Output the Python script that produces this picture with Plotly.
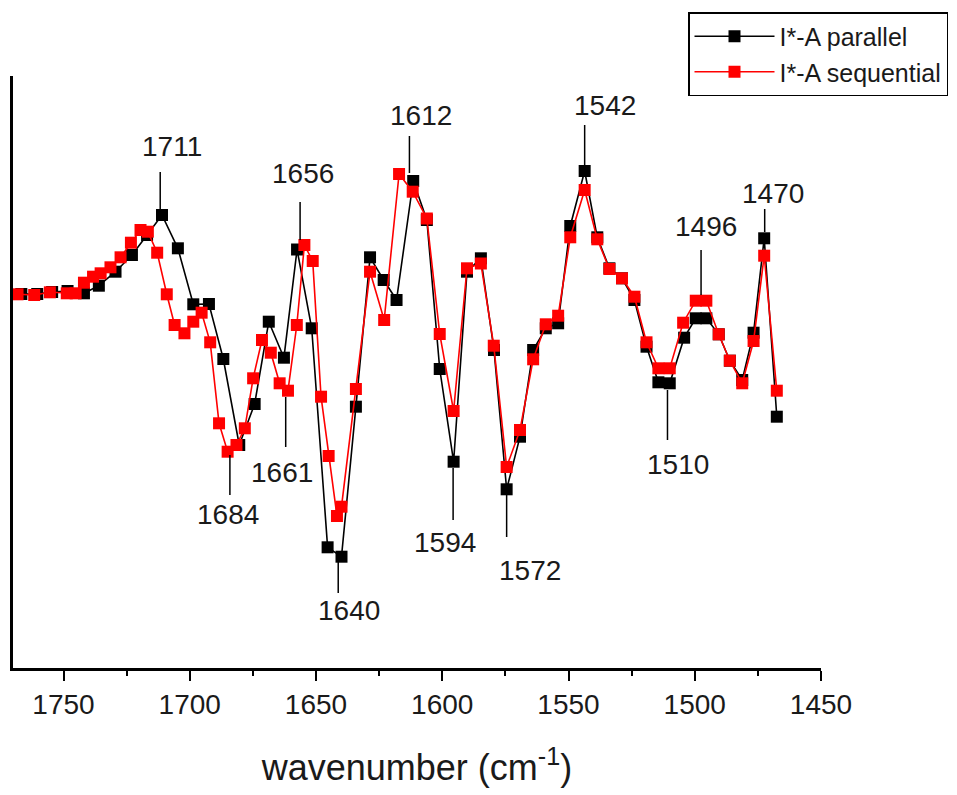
import plotly.graph_objects as go

# ---------------- data ----------------
wn_parallel = [1766.7, 1760.4, 1754.5, 1748.4, 1741.9, 1736.0, 1729.4, 1722.9, 1716.9, 1711.0,
               1704.7, 1698.6, 1692.4, 1686.7, 1680.4, 1674.3, 1668.7, 1662.7, 1657.5, 1651.7,
               1645.4, 1639.9, 1634.2, 1628.6, 1623.2, 1618.1, 1611.5, 1606.1, 1601.0, 1595.5,
               1590.2, 1584.7, 1579.5, 1574.5, 1569.2, 1564.0, 1559.0, 1554.1, 1549.3, 1543.6,
               1538.6, 1533.8, 1528.8, 1523.9, 1519.1, 1514.4, 1509.9, 1504.2, 1499.6, 1495.4,
               1490.5, 1486.1, 1481.2, 1476.7, 1472.5, 1467.5]
val_parallel = [-0.01, -0.01, 0.01, 0.02, -0.003, 0.073, 0.213, 0.38, 0.58, 0.78,
                0.447, -0.113, -0.11, -0.66, -1.52, -1.11, -0.287, -0.647, 0.435, -0.353,
                -2.543, -2.637, -1.137, 0.357, 0.13, -0.07, 1.12, 0.73, -0.76, -1.687,
                0.213, 0.347, -0.57, -1.963, -1.437, -0.57, -0.353, -0.303, 0.67, 1.22,
                0.557, 0.247, 0.147, -0.07, -0.537, -0.893, -0.903, -0.447, -0.253, -0.253,
                -0.413, -0.677, -0.87, -0.397, 0.547, -1.237]

wn_sequential = [1768.2, 1761.6, 1755.4, 1748.7, 1745.2, 1741.9, 1738.3, 1735.3, 1731.4, 1727.4,
                 1723.3, 1719.5, 1716.6, 1712.9, 1709.1, 1706.0, 1702.1, 1698.6, 1695.3, 1691.9,
                 1688.4, 1685.0, 1681.5, 1678.2, 1674.9, 1671.4, 1667.9, 1664.4, 1661.1, 1657.6,
                 1654.6, 1651.3, 1648.0, 1645.0, 1641.7, 1639.9, 1634.2, 1628.6, 1623.0, 1617.1,
                 1611.7, 1606.1, 1601.0, 1595.5, 1590.2, 1584.7, 1579.6, 1574.5, 1569.2, 1564.0,
                 1559.0, 1554.1, 1549.3, 1543.6, 1538.6, 1533.8, 1528.8, 1523.9, 1519.1, 1514.4,
                 1509.9, 1504.6, 1499.6, 1495.4, 1490.5, 1486.1, 1481.2, 1476.7, 1472.5, 1467.5]
val_sequential = [-0.013, -0.02, 0.007, -0.003, -0.003, 0.103, 0.163, 0.197, 0.257, 0.357,
                  0.503, 0.63, 0.613, 0.403, -0.013, -0.32, -0.403, -0.287, -0.197, -0.493,
                  -1.303, -1.587, -1.52, -1.353, -0.853, -0.47, -0.597, -0.903, -0.977, -0.32,
                  0.48, 0.32, -1.037, -1.63, -2.23, -2.137, -0.96, 0.213, -0.27, 1.19,
                  1.013, 0.745, -0.41, -1.18, 0.247, 0.295, -0.527, -1.74, -1.37, -0.663,
                  -0.313, -0.227, 0.557, 1.03, 0.537, 0.24, 0.147, -0.037, -0.493, -0.753,
                  -0.753, -0.297, -0.077, -0.077, -0.413, -0.677, -0.903, -0.48, 0.373, -0.977]

series_names = ["I*-A parallel", "I*-A sequential"]

peak_labels = ["1711", "1656", "1612", "1542", "1470", "1496",
               "1510", "1594", "1572", "1640", "1661", "1684"]

x_ticks = [1750, 1700, 1650, 1600, 1550, 1500, 1450]

# ---------------- annotation layout (line x, line y0, line y1, text x, text y) ----------------
label_layout = {
    "1711": (1711.7, 1.21, 0.83, 1707.1, 1.47),
    "1656": (1656.3, 0.91, 0.53, 1655.2, 1.20),
    "1612": (1613.0, 1.57, 1.20, 1608.4, 1.78),
    "1542": (1543.6, 1.68, 1.28, 1535.5, 1.88),
    "1470": (1472.3, 0.84, 0.61, 1468.9, 1.00),
    "1496": (1497.5, 0.43, -0.02, 1495.7, 0.67),
    "1510": (1510.8, -0.97, -1.47, 1506.7, -1.71),
    "1594": (1595.7, -1.75, -2.27, 1598.9, -2.49),
    "1572": (1574.5, -2.02, -2.44, 1565.4, -2.77),
    "1640": (1641.2, -2.69, -3.00, 1637.1, -3.17),
    "1661": (1662.0, -1.04, -1.54, 1663.5, -1.79),
    "1684": (1684.1, -1.62, -2.02, 1684.8, -2.21),
}

FONT = "Liberation Sans, Arial, sans-serif"
TXT = "#1a1a1a"

fig = go.Figure()
fig.add_trace(go.Scatter(
    x=wn_parallel, y=val_parallel, mode="lines+markers", name=series_names[0],
    line=dict(color="black", width=1.6),
    marker=dict(symbol="square", size=12, color="black"),
))
fig.add_trace(go.Scatter(
    x=wn_sequential, y=val_sequential, mode="lines+markers", name=series_names[1],
    line=dict(color="#ff0000", width=1.6),
    marker=dict(symbol="square", size=12, color="#ff0000"),
))

for lab in peak_labels:
    lx, ly0, ly1, tx, ty = label_layout[lab]
    fig.add_shape(type="line", xref="x", yref="y", x0=lx, x1=lx, y0=ly0, y1=ly1,
                  line=dict(color="black", width=1.5))
    fig.add_annotation(x=tx, y=ty, xref="x", yref="y", text=lab, showarrow=False,
                       font=dict(family=FONT, size=28, color=TXT),
                       xanchor="center", yanchor="middle")

fig.update_layout(
    width=957, height=795,
    margin=dict(l=13, r=136, t=76, b=127, autoexpand=False),
    paper_bgcolor="white", plot_bgcolor="white",
    font=dict(family=FONT, color=TXT),
    showlegend=True,
    legend=dict(
        xref="container", yref="container",
        x=948 / 957, y=1 - 12 / 795, xanchor="right", yanchor="top",
        bordercolor="black", borderwidth=1.5, bgcolor="white",
        font=dict(family=FONT, size=25, color=TXT),
        itemwidth=80, tracegroupgap=0,
    ),
    xaxis=dict(
        range=[1770, 1450], tickvals=x_ticks, ticktext=[str(t) for t in x_ticks],
        ticks="outside", ticklen=10, tickwidth=2, tickcolor="black",
        minor=dict(dtick=25, tick0=1450, ticks="outside", ticklen=5, tickwidth=2, tickcolor="black"),
        showline=True, linecolor="black", linewidth=2.5,
        showgrid=False, zeroline=False,
        tickfont=dict(family=FONT, size=28, color=TXT),
        title=dict(text="wavenumber (cm<sup>-1</sup>)", font=dict(family=FONT, size=36, color=TXT),
                   standoff=36),
    ),
    yaxis=dict(
        range=[-3.75, 2.17], showline=True, linecolor="black", linewidth=2.5,
        showticklabels=False, ticks="", showgrid=False, zeroline=False,
    ),
)

fig.write_html("out.html", config={"displayModeBar": False},
               post_script="document.body.style.margin='0px';document.body.style.overflow='hidden';")
